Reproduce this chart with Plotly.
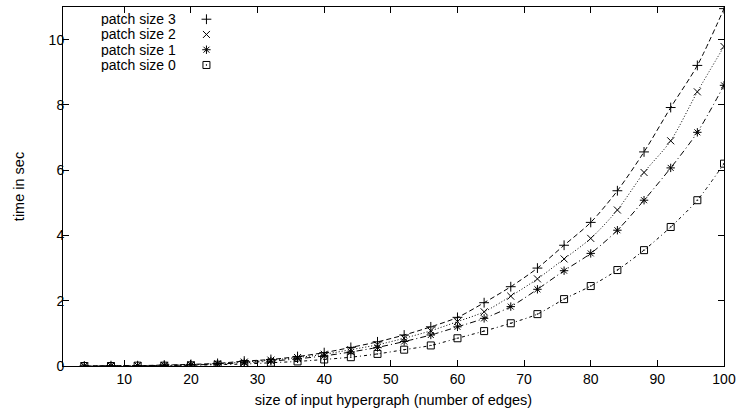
import plotly.graph_objects as go

# Hypergraph size (number of edges)
edges = [4, 8, 12, 16, 20, 24, 28, 32, 36, 40, 44, 48, 52,
         56, 60, 64, 68, 72, 76, 80, 84, 88, 92, 96, 100]

# Runtime in seconds per patch size
patch3 = [0.00, 0.01, 0.01, 0.03, 0.05, 0.08, 0.15, 0.20, 0.29, 0.41, 0.57, 0.74, 0.95,
          1.20, 1.49, 1.94, 2.43, 3.00, 3.70, 4.40, 5.37, 6.56, 7.92, 9.21, 10.95]
patch2 = [0.00, 0.01, 0.01, 0.02, 0.04, 0.07, 0.12, 0.18, 0.26, 0.36, 0.50, 0.65, 0.85,
          1.08, 1.36, 1.66, 2.14, 2.67, 3.28, 3.91, 4.78, 5.93, 6.90, 8.40, 9.79]
patch1 = [0.00, 0.00, 0.01, 0.02, 0.03, 0.06, 0.10, 0.15, 0.22, 0.31, 0.43, 0.57, 0.75,
          0.95, 1.20, 1.46, 1.82, 2.35, 2.92, 3.45, 4.16, 5.08, 6.07, 7.16, 8.60]
patch0 = [0.00, 0.00, 0.01, 0.01, 0.02, 0.04, 0.06, 0.10, 0.14, 0.20, 0.27, 0.37, 0.50,
          0.63, 0.85, 1.07, 1.31, 1.59, 2.05, 2.45, 2.94, 3.55, 4.26, 5.08, 6.20]

labels = ["patch size 3", "patch size 2", "patch size 1", "patch size 0"]
series = [patch3, patch2, patch1, patch0]
symbols = ["cross-thin", "x-thin", "asterisk", "square-open-dot"]
dashes = ["5px,3px", "1px,2px", "6px,3px,1px,3px", "3px,3px,1px,3px"]

FONT = "Liberation Sans, Arial, Helvetica, sans-serif"
MARK = 7

fig = go.Figure()

# smooth trend curves
for vals, dash in zip(series, dashes):
    fig.add_trace(go.Scatter(
        x=edges, y=vals, mode="lines",
        line=dict(color="black", width=1, dash=dash, shape="spline", smoothing=0.8),
        showlegend=False, hoverinfo="skip"))

# measured points
for vals, sym, name in zip(series, symbols, labels):
    fig.add_trace(go.Scatter(
        x=edges, y=vals, mode="markers", name=name,
        marker=dict(symbol=sym, size=MARK, color="black",
                    line=dict(color="black", width=1)),
        showlegend=False))

# key: text on the left, symbol on the right (paper-like overlay axes)
key_x_text = 0.173
key_x_sym = 0.217
key_rows = [0.966, 0.9235, 0.881, 0.8385]
for sym, name, ky in zip(symbols, labels, key_rows):
    fig.add_trace(go.Scatter(
        x=[key_x_sym], y=[ky], xaxis="x2", yaxis="y2", mode="markers",
        marker=dict(symbol=sym, size=MARK, color="black",
                    line=dict(color="black", width=1)),
        showlegend=False, hoverinfo="skip"))
    fig.add_annotation(
        x=key_x_text, y=ky, xref="paper", yref="paper",
        text=name, showarrow=False, xanchor="right", yanchor="middle",
        height=14, borderpad=0,
        font=dict(family=FONT, size=14, color="black"))

axis_common = dict(
    showgrid=False, zeroline=False, showline=True, linecolor="black", linewidth=1,
    mirror="ticks", ticks="inside", ticklen=6, tickwidth=1, tickcolor="black",
    tickfont=dict(family=FONT, size=14, color="black"))

fig.update_layout(
    width=742, height=414,
    margin=dict(l=63, r=15, t=6, b=48),
    paper_bgcolor="white", plot_bgcolor="white",
    showlegend=False,
    xaxis=dict(range=[0.8, 100], tick0=0, dtick=10,
               title=dict(text="size of input hypergraph (number of edges)",
                          font=dict(family=FONT, size=14.5, color="black"), standoff=9),
               **axis_common),
    yaxis=dict(range=[0, 11], tick0=0, dtick=2, ticklabelstandoff=-5,
               title=dict(text="time in sec",
                          font=dict(family=FONT, size=14.5, color="black"), standoff=20),
               **axis_common),
    xaxis2=dict(overlaying="x", anchor="y2", range=[0, 1], visible=False),
    yaxis2=dict(overlaying="y", anchor="x2", range=[0, 1], visible=False),
)

fig.write_html("out.html")
